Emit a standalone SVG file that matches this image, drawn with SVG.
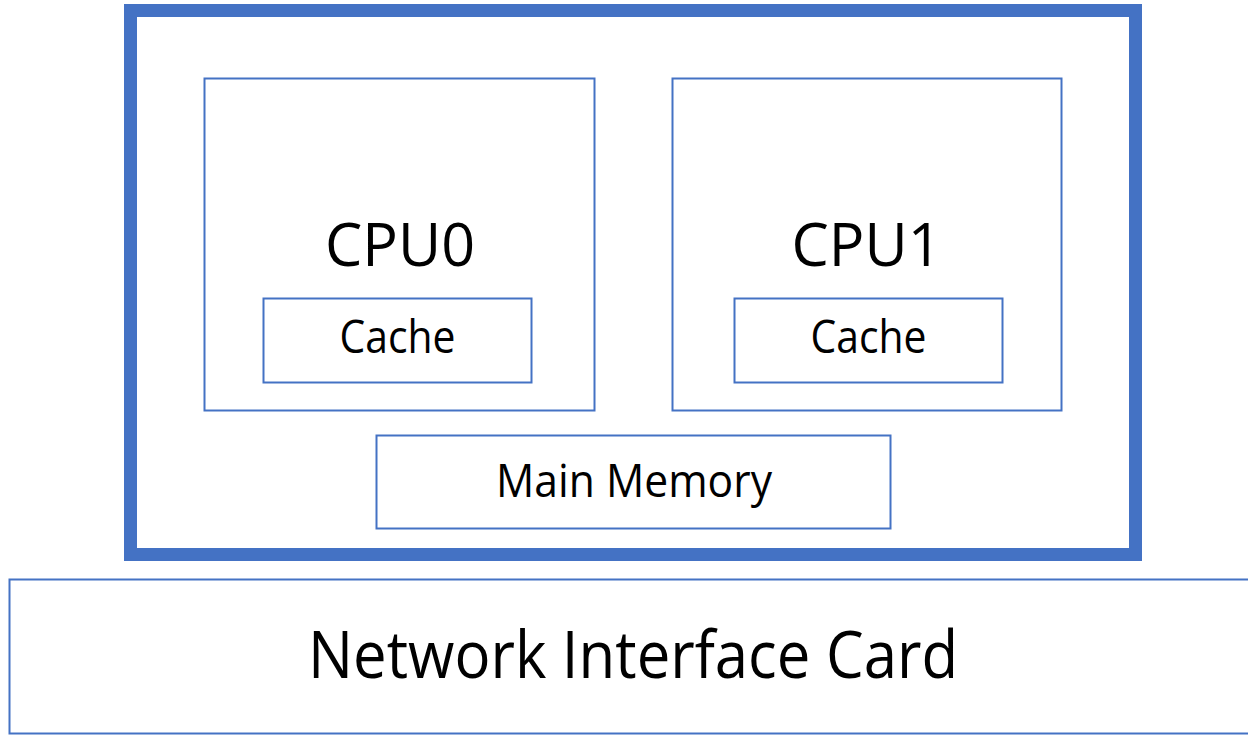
<svg xmlns="http://www.w3.org/2000/svg" width="1248" height="735" viewBox="0 0 1248 735">
<style>
.box{fill:#fff;stroke:#4472C4;stroke-width:2}
.t{font-family:"Open Sans","Noto Sans","Liberation Sans",sans-serif;fill:#000;text-anchor:middle}
</style>
<rect width="1248" height="735" fill="#fff"/>
<g id="computer">
<rect x="130.5" y="10.5" width="1005" height="544" fill="#fff" stroke="#4472C4" stroke-width="13"/>
</g>
<g id="cpu0">
<rect class="box" x="204.5" y="78.5" width="390" height="332"/>
<text class="t" x="400" y="266" font-size="60" textLength="150" lengthAdjust="spacingAndGlyphs">CPU0</text>
</g>
<g id="cache0">
<rect class="box" x="263.5" y="298.5" width="268" height="84"/>
<text class="t" x="397.5" y="353" font-size="46" textLength="116" lengthAdjust="spacingAndGlyphs">Cache</text>
</g>
<g id="cpu1">
<rect class="box" x="672.5" y="78.5" width="389" height="332"/>
<text class="t" x="866.5" y="266" font-size="60" textLength="150" lengthAdjust="spacingAndGlyphs">CPU1</text>
</g>
<g id="cache1">
<rect class="box" x="734.5" y="298.5" width="268" height="84"/>
<text class="t" x="868.5" y="353" font-size="46" textLength="116" lengthAdjust="spacingAndGlyphs">Cache</text>
</g>
<g id="main-memory">
<rect class="box" x="376.5" y="435.5" width="514" height="93"/>
<text class="t" x="634" y="497" font-size="46" textLength="276" lengthAdjust="spacingAndGlyphs">Main Memory</text>
</g>
<g id="nic">
<rect class="box" x="9.5" y="579.5" width="1250" height="154" stroke-width="2.5"/>
<text class="t" x="633" y="678" font-size="66" textLength="650" lengthAdjust="spacingAndGlyphs">Network Interface Card</text>
</g>
<g id="connectors"></g>
</svg>
